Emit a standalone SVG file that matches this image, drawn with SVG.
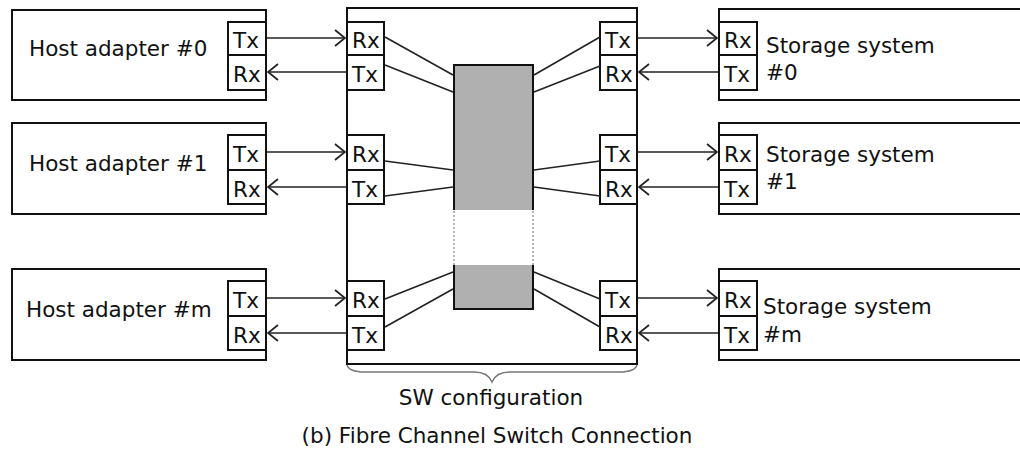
<svg xmlns="http://www.w3.org/2000/svg" width="1020" height="451" viewBox="0 0 1020 451">
<style>
  text{font-family:"DejaVu Sans","Verdana",sans-serif;font-size:21.5px;fill:#111}
  .box{fill:#fff;stroke:#111;stroke-width:2}
  .port{fill:#fff;stroke:#111;stroke-width:2}
  .fill{fill:#b0b0b0;stroke:none}
  .edge{fill:none;stroke:#111;stroke-width:2}
  .ln{stroke:#222;stroke-width:1.6;fill:none}
  .ar{stroke:#222;stroke-width:1.6;fill:none;marker-end:url(#chev)}
  .dot{stroke:#888;stroke-width:1.2;stroke-dasharray:2 2;fill:none}
</style>
<defs>
  <marker id="chev" viewBox="0 0 12 18" refX="11" refY="9" markerWidth="12" markerHeight="18" markerUnits="userSpaceOnUse" orient="auto">
    <path d="M1,1 L11,9 L1,17" fill="none" stroke="#222" stroke-width="1.8"/>
  </marker>
</defs>
<rect width="1020" height="451" fill="#fff"/>

<g id="switch">
  <rect class="box" x="347" y="8" width="290" height="356"/>
  <rect class="fill" x="454" y="65" width="79" height="145"/>
  <path class="edge" d="M454,210 L454,65 L533,65 L533,210"/>
  <rect class="fill" x="454" y="265" width="79" height="44"/>
  <path class="edge" d="M454,265 L454,309 L533,309 L533,265"/>
  <line class="dot" x1="454" y1="211" x2="454" y2="265"/>
  <line class="dot" x1="533" y1="211" x2="533" y2="265"/>
  <rect class="port" x="347" y="22" width="37" height="33"/><text x="352" y="48">Rx</text>
  <rect class="port" x="347" y="55" width="37" height="35"/><text x="352" y="82">Tx</text>
  <rect class="port" x="600" y="22" width="37" height="33"/><text x="605" y="48">Tx</text>
  <rect class="port" x="600" y="55" width="37" height="35"/><text x="605" y="82">Rx</text>
  <rect class="port" x="347" y="135" width="37" height="35"/><text x="352" y="162">Rx</text>
  <rect class="port" x="347" y="170" width="37" height="34"/><text x="352" y="197">Tx</text>
  <rect class="port" x="600" y="135" width="37" height="35"/><text x="605" y="162">Tx</text>
  <rect class="port" x="600" y="170" width="37" height="34"/><text x="605" y="197">Rx</text>
  <rect class="port" x="347" y="281" width="37" height="35"/><text x="352" y="308">Rx</text>
  <rect class="port" x="347" y="316" width="37" height="34"/><text x="352" y="343">Tx</text>
  <rect class="port" x="600" y="281" width="37" height="35"/><text x="605" y="308">Tx</text>
  <rect class="port" x="600" y="316" width="37" height="34"/><text x="605" y="343">Rx</text>
</g>

<g id="host0">
  <rect class="box" x="12" y="10" width="254" height="90"/>
  <text x="29" y="56">Host adapter #0</text>
  <rect class="port" x="228" y="22" width="38" height="33"/><text x="233" y="48">Tx</text>
  <rect class="port" x="228" y="55" width="38" height="35"/><text x="233" y="82">Rx</text>
</g>
<g id="host1">
  <rect class="box" x="12" y="123" width="254" height="91"/>
  <text x="29" y="171">Host adapter #1</text>
  <rect class="port" x="228" y="135" width="38" height="35"/><text x="233" y="162">Tx</text>
  <rect class="port" x="228" y="170" width="38" height="34"/><text x="233" y="197">Rx</text>
</g>
<g id="hostm">
  <rect class="box" x="12" y="269" width="254" height="91"/>
  <text x="26" y="317">Host adapter #m</text>
  <rect class="port" x="228" y="281" width="38" height="35"/><text x="233" y="308">Tx</text>
  <rect class="port" x="228" y="316" width="38" height="34"/><text x="233" y="343">Rx</text>
</g>

<g id="storage0">
  <rect class="box" x="719" y="9" width="310" height="91"/>
  <rect class="port" x="719" y="22" width="38" height="33"/><text x="724" y="48">Rx</text>
  <rect class="port" x="719" y="55" width="38" height="35"/><text x="724" y="82">Tx</text>
  <text x="766" y="53">Storage system</text>
  <text x="766" y="80">#0</text>
</g>
<g id="storage1">
  <rect class="box" x="719" y="123" width="310" height="91"/>
  <rect class="port" x="719" y="135" width="38" height="35"/><text x="724" y="162">Rx</text>
  <rect class="port" x="719" y="170" width="38" height="34"/><text x="724" y="197">Tx</text>
  <text x="766" y="162">Storage system</text>
  <text x="766" y="189">#1</text>
</g>
<g id="storagem">
  <rect class="box" x="719" y="269" width="310" height="91"/>
  <rect class="port" x="719" y="281" width="38" height="35"/><text x="724" y="308">Rx</text>
  <rect class="port" x="719" y="316" width="38" height="34"/><text x="724" y="343">Tx</text>
  <text x="763" y="314">Storage system</text>
  <text x="763" y="342">#m</text>
</g>

<g id="connectors">
  <line class="ar" x1="267" y1="38" x2="345" y2="38"/>
  <line class="ar" x1="346" y1="72" x2="268" y2="72"/>
  <line class="ar" x1="638" y1="38" x2="717" y2="38"/>
  <line class="ar" x1="718" y1="72" x2="639" y2="72"/>
  <line class="ar" x1="267" y1="152" x2="345" y2="152"/>
  <line class="ar" x1="346" y1="187" x2="268" y2="187"/>
  <line class="ar" x1="638" y1="152" x2="717" y2="152"/>
  <line class="ar" x1="718" y1="187" x2="639" y2="187"/>
  <line class="ar" x1="267" y1="298" x2="345" y2="298"/>
  <line class="ar" x1="346" y1="333" x2="268" y2="333"/>
  <line class="ar" x1="638" y1="298" x2="717" y2="298"/>
  <line class="ar" x1="718" y1="333" x2="639" y2="333"/>
  <line class="ln" x1="385" y1="37" x2="453" y2="75"/>
  <line class="ln" x1="385" y1="65" x2="453" y2="92"/>
  <line class="ln" x1="534" y1="75" x2="600" y2="37"/>
  <line class="ln" x1="534" y1="92" x2="600" y2="66"/>
  <line class="ln" x1="385" y1="161" x2="453" y2="170"/>
  <line class="ln" x1="385" y1="196" x2="453" y2="187"/>
  <line class="ln" x1="534" y1="170" x2="600" y2="161"/>
  <line class="ln" x1="534" y1="187" x2="600" y2="196"/>
  <line class="ln" x1="385" y1="299" x2="453" y2="272"/>
  <line class="ln" x1="385" y1="327" x2="453" y2="289"/>
  <line class="ln" x1="534" y1="272" x2="600" y2="299"/>
  <line class="ln" x1="534" y1="289" x2="600" y2="327"/>
</g>

<g id="brace">
  <path d="M347,365 Q349,372 365,372 L474,372 Q488,372 492,382 Q496,372 510,372 L619,372 Q635,372 637,365" fill="none" stroke="#777" stroke-width="1.4"/>
  <text x="491" y="405" text-anchor="middle">SW configuration</text>
</g>
<text x="497" y="443" text-anchor="middle">(b) Fibre Channel Switch Connection</text>
</svg>
